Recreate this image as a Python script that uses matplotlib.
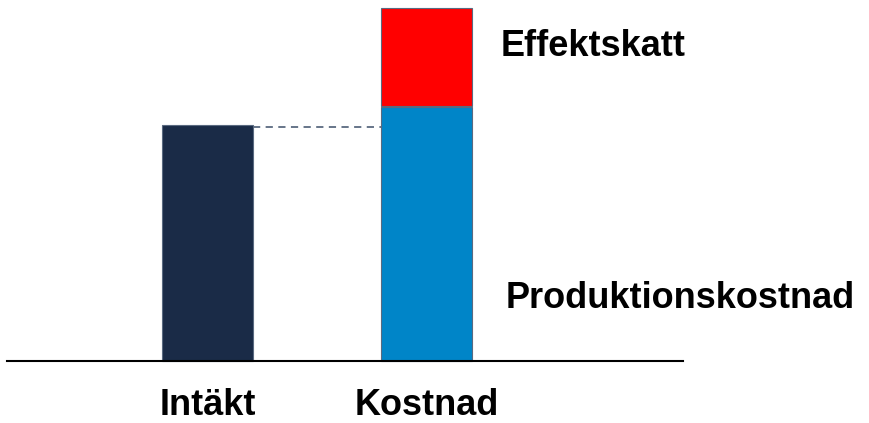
import matplotlib
matplotlib.use('Agg')
import matplotlib.pyplot as plt

categories = ['Intäkt', 'Kostnad']
intakt = 236
produktionskostnad = 254
effektskatt = 98
series_labels = ['Produktionskostnad', 'Effektskatt']

plt.rcParams['font.family'] = ['Liberation Sans', 'DejaVu Sans']

fig = plt.figure(figsize=(8.69, 4.23), dpi=100)
ax = fig.add_axes([0, 0, 1, 1])
ax.set_xlim(0, 869)
ax.set_ylim(423, 0)
ax.axis('off')

# koordinater i pixlar: baslinje vid y=361
base = 361
xs = [207.5, 426.5]
w = 91
edge = '#5a6a80'

ax.bar(xs[0], -intakt, bottom=base, width=w, color='#1a2b47', edgecolor=edge, linewidth=0.8)
ax.bar(xs[1], -produktionskostnad, bottom=base, width=w, color='#0085c8', edgecolor=edge, linewidth=0.8)
ax.bar(xs[1], -effektskatt, bottom=base - produktionskostnad - 1, width=w, color='#ff0000',
       edgecolor=edge, linewidth=0.8)

# streckad linje mellan staplarna
ax.plot([xs[0] + w / 2, xs[1] - w / 2], [base - intakt + 2, base - intakt + 2],
        color='#5a6a80', linestyle=(0, (4, 3)), linewidth=1.3)

# baslinje
ax.plot([7, 683], [base, base], color='black', linewidth=1.5)

fs = 26
for x, lab in zip(xs, categories):
    ax.text(x, 415, lab, ha='center', va='baseline', fontsize=fs, fontweight='bold')

ax.text(506, 308, series_labels[0], ha='left', va='baseline', fontsize=fs, fontweight='bold')
ax.text(501, 56, series_labels[1], ha='left', va='baseline', fontsize=fs, fontweight='bold')

fig.savefig('out.png', dpi=100)
